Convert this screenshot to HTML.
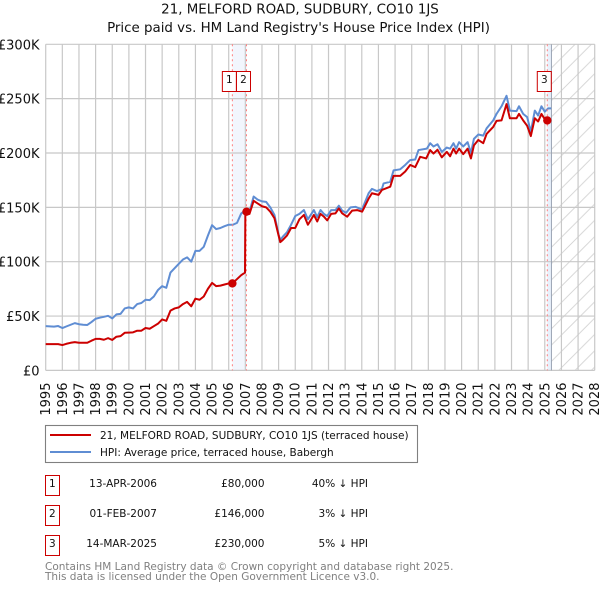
<!DOCTYPE html>
<html>
<head>
<meta charset="utf-8">
<style>
html,body{margin:0;padding:0;background:#fff;}
svg{display:block;font-family:"DejaVu Sans","Liberation Sans",sans-serif;}
</style>
</head>
<body>
<svg id="chart" width="600" height="590" viewBox="0 0 600 590" xmlns="http://www.w3.org/2000/svg">
<defs>
<pattern id="hatch" patternUnits="userSpaceOnUse" width="16.3" height="16.3">
<path d="M-1,17.3 L17.3,-1 M-1,1 L1,-1 M15.3,17.3 L17.3,15.3" stroke="#d2d2d2" stroke-width="0.9" fill="none"/>
</pattern>
</defs>
<rect x="0" y="0" width="600" height="590" fill="#fff"/>
<text x="300" y="13.5" text-anchor="middle" font-size="13.4" fill="#111">21, MELFORD ROAD, SUDBURY, CO10 1JS</text>
<text x="298.5" y="32" text-anchor="middle" font-size="13.4" fill="#111">Price paid vs. HM Land Registry's House Price Index (HPI)</text>
<g id="bands"></g>
<g id="grid"></g>
<g id="ylabels"></g>
<g id="xlabels"></g>
<g id="series"></g>
<g id="sales"></g>

<g>
<rect x="45.5" y="425.5" width="372" height="37" fill="#fff" stroke="#808080" stroke-width="1.1"/>
<line x1="50" x2="91" y1="435" y2="435" stroke="#cc0000" stroke-width="2"/>
<text x="100" y="439" font-size="10.5" fill="#111">21, MELFORD ROAD, SUDBURY, CO10 1JS (terraced house)</text>
<line x1="50" x2="91" y1="452" y2="452" stroke="#5f8dd3" stroke-width="2"/>
<text x="100" y="456" font-size="10.5" fill="#111">HPI: Average price, terraced house, Babergh</text>
</g>

<g font-size="10.5" fill="#111">
<rect x="45.5" y="475.5" width="14" height="20" fill="#fff" stroke="#cc0000" stroke-width="1"/>
<text x="52.3" y="487" text-anchor="middle">1</text>
<text x="157" y="487" text-anchor="end">13-APR-2006</text>
<text x="264.5" y="487" text-anchor="end">£80,000</text>
<text x="368" y="487" text-anchor="end">40% ↓ HPI</text>
<rect x="45.5" y="505.5" width="14" height="20" fill="#fff" stroke="#cc0000" stroke-width="1"/>
<text x="52.3" y="517" text-anchor="middle">2</text>
<text x="157" y="517" text-anchor="end">01-FEB-2007</text>
<text x="264.5" y="517" text-anchor="end">£146,000</text>
<text x="368" y="517" text-anchor="end">3% ↓ HPI</text>
<rect x="45.5" y="535.5" width="14" height="20" fill="#fff" stroke="#cc0000" stroke-width="1"/>
<text x="52.3" y="547" text-anchor="middle">3</text>
<text x="157" y="547" text-anchor="end">14-MAR-2025</text>
<text x="264.5" y="547" text-anchor="end">£230,000</text>
<text x="368" y="547" text-anchor="end">5% ↓ HPI</text>
</g>

<text x="45" y="570" font-size="10.5" fill="#808080">Contains HM Land Registry data © Crown copyright and database right 2025.</text>
<text x="45" y="580" font-size="10.5" fill="#808080">This data is licensed under the Open Government Licence v3.0.</text>
</svg>
<script>
const yearTicks = [1995,1996,1997,1998,1999,2000,2001,2002,2003,2004,2005,2006,2007,2008,2009,2010,2011,2012,2013,2014,2015,2016,2017,2018,2019,2020,2021,2022,2023,2024,2025,2026,2027,2028];
const priceTicks = [0,50,100,150,200,250,300];
const priceTickLabels = ["£0","£50K","£100K","£150K","£200K","£250K","£300K"];

const hpiDates = [1995,1995.25,1995.5,1995.75,1996,1996.25,1996.5,1996.75,1997,1997.25,1997.5,1997.75,1998,1998.25,1998.5,1998.75,1999,1999.25,1999.5,1999.75,2000,2000.25,2000.5,2000.75,2001,2001.25,2001.5,2001.75,2002,2002.25,2002.5,2002.75,2003,2003.25,2003.5,2003.75,2004,2004.25,2004.5,2004.75,2005,2005.25,2005.5,2005.75,2006,2006.25,2006.5,2006.75,2007,2007.25,2007.5,2007.75,2008,2008.25,2008.5,2008.75,2009,2009.1,2009.25,2009.5,2009.75,2010,2010.25,2010.52,2010.76,2011.12,2011.32,2011.52,2011.72,2011.92,2012.16,2012.42,2012.62,2012.82,2013.06,2013.32,2013.62,2014.02,2014.12,2014.41,2014.61,2014.91,2015.21,2015.31,2015.71,2015.91,2016.31,2016.61,2016.91,2017.21,2017.41,2017.91,2018.11,2018.31,2018.55,2018.81,2019.11,2019.31,2019.51,2019.67,2019.85,2020.1,2020.36,2020.56,2020.74,2021,2021.3,2021.5,2021.9,2022.1,2022.4,2022.7,2022.9,2023.3,2023.45,2023.7,2023.94,2024.16,2024.4,2024.6,2024.8,2025,2025.2,2025.38];
const hpiValues = [40.7,40.5,40.3,40.8,39,40.5,42,43.5,42.5,42,41.8,44.5,47.5,48.5,49.3,50.2,47.8,51.5,52,57,58,57,61,62,65,64.6,68,74,77.5,76,90,94,98,102,104,100,110,110,113.7,124,133.6,130,131,132.7,134,134,135.7,144.3,147.4,146,160,157,155.5,155,150,143,125,120,123,127,134,142,144,147.5,139,147.5,141,147.5,144,142,147.5,147.5,151.5,147,145,150,150.5,148,152,163,167,165,167,172,173.5,184,185,189,193.5,194,202.7,204,209,206,208,201,205,204,209,204,210,206,210,200,213,217,216,222.6,230,236,243,252.6,239,238.5,243,236,233,219.5,239,234.5,243,238,241,241];

const priceDates = [1995,1995.5,1995.75,1996,1996.25,1996.5,1996.75,1997,1997.5,1997.75,1998,1998.25,1998.5,1998.75,1999,1999.25,1999.5,1999.75,2000,2000.25,2000.5,2000.75,2001,2001.25,2001.5,2001.75,2002,2002.25,2002.5,2002.75,2003,2003.25,2003.5,2003.75,2004,2004.25,2004.5,2004.75,2005,2005.25,2005.5,2005.75,2006,2006.22,2006.75,2006.98,2007,2007.25,2007.5,2007.75,2008,2008.25,2008.5,2008.75,2009,2009.1,2009.25,2009.5,2009.75,2010,2010.25,2010.52,2010.76,2011.12,2011.32,2011.52,2011.72,2011.92,2012.16,2012.42,2012.62,2012.82,2013.12,2013.42,2013.72,2014.02,2014.12,2014.41,2014.61,2015.01,2015.21,2015.71,2015.91,2016.31,2016.61,2016.91,2017.21,2017.51,2017.87,2018.11,2018.31,2018.55,2018.81,2019.11,2019.31,2019.51,2019.67,2019.85,2020.1,2020.36,2020.56,2020.74,2021,2021.3,2021.5,2021.9,2022.1,2022.4,2022.7,2022.9,2023.3,2023.45,2023.7,2023.94,2024.16,2024.4,2024.6,2024.8,2025,2025.15];
const priceValues = [24.2,24.2,24.2,23.3,24.5,25.4,26,25.4,25.4,27.3,29,29,28.2,29.7,28,31,31.5,34.6,34.8,35,36.5,36.5,39,38.3,40.7,43,46.9,45.6,55,57,58,61,63,59,66,65,68,75,80.5,77.5,78,79,80,80,87.6,90,146,144,156,153.5,151,150,146,140,124,118,120,124,131,131,139,143,134,143,137,144,141.5,138,144,144.5,149,144.5,141.4,147,147.5,146,149,158,163,161.5,166,169,179,179,183,189,187,196.5,195,202.7,199.5,203,196,201,197,204,199.5,204,199,204,195,207,212,209,217.5,224,229.5,230,245,232,232,236,230,225,215.6,232,229,236,231,230];

const saleDates = [2006.22,2007.07,2025.15];
const salePrices = [80,146,230];
const saleLabels = ["1","2","3"];
const forecastStart = 2025.4;

const NS = "http://www.w3.org/2000/svg";
const xMin = 1995, xMax = 2028, yMin = 0, yMax = 300;
const pxLeft = 45.7, pxRight = 594.7, pxBottom = 370.4, pxTop = 44.3;
function xAt(year){ return pxLeft + (year - xMin) / (xMax - xMin) * (pxRight - pxLeft); }
function yAt(value){ return pxBottom - (value - yMin) / (yMax - yMin) * (pxBottom - pxTop); }
function make(parent, tag, attrs, text){
  const el = document.createElementNS(NS, tag);
  for (const k in attrs) el.setAttribute(k, attrs[k]);
  if (text !== undefined) el.textContent = text;
  document.getElementById(parent).appendChild(el);
  return el;
}
function pathFrom(dates, values){
  return dates.map((d, i) => (i ? "L" : "M") + xAt(d).toFixed(2) + "," + yAt(values[i]).toFixed(2)).join(" ");
}

let el;
el = make("bands", "rect", {x: xAt(saleDates[0]), y: pxTop, width: xAt(saleDates[1]) - xAt(saleDates[0]), height: pxBottom - pxTop, fill: "#f2f6fd"});


el = make("bands", "rect", {x: xAt(saleDates[2]), y: pxTop, width: xAt(forecastStart) - xAt(saleDates[2]), height: pxBottom - pxTop, fill: "#e8f0fb"});


el = make("bands", "rect", {x: xAt(forecastStart), y: pxTop, width: pxRight - xAt(forecastStart), height: pxBottom - pxTop, fill: "url(#hatch)"});



yearTicks.forEach(function(year){
  const g = make("grid", "line", {x1: xAt(year), x2: xAt(year), y1: pxTop, y2: pxBottom, stroke: "#c8c8c8", "stroke-width": 1.2});
  
  
  const x = xAt(year) + 4.5;
  const t = make("xlabels", "text", {x: x, y: 382.5, transform: "rotate(-90 " + x + " 382.5)", "text-anchor": "end", "font-size": 13, fill: "#111"}, String(year));
  
  
});
priceTicks.forEach(function(value, i){
  const g = make("grid", "line", {x1: pxLeft, x2: pxRight, y1: yAt(value), y2: yAt(value), stroke: "#c8c8c8", "stroke-width": 1.2});
  
  
  const t = make("ylabels", "text", {x: 39.5, y: yAt(value) + 5, "text-anchor": "end", "font-size": 13, fill: "#111"}, priceTickLabels[i]);
  
  
});

el = make("grid", "line", {x1: xAt(forecastStart), x2: xAt(forecastStart), y1: pxTop, y2: pxBottom, stroke: "#9aa4b4", "stroke-width": 1});



el = make("series", "path", {d: pathFrom(hpiDates, hpiValues), fill: "none", stroke: "#5f8dd3", "stroke-width": 2, "stroke-linejoin": "round"});


el = make("series", "path", {d: pathFrom(priceDates, priceValues), fill: "none", stroke: "#cc0000", "stroke-width": 2, "stroke-linejoin": "round"});



saleDates.forEach(function(date, i){
  const v = make("sales", "line", {x1: xAt(date), x2: xAt(date), y1: pxTop, y2: pxBottom, stroke: "#ff7f7f", "stroke-width": 1, "stroke-dasharray": "2 3"});
  
  
  const m = make("sales", "circle", {cx: xAt(date), cy: yAt(salePrices[i]), r: 4.2, fill: "#cc0000"});
  
  
  const right = xAt(date) + 4;
  const b = make("sales", "rect", {x: right - 14, y: 71.5, width: 14, height: 20, fill: "#fff", stroke: "#cc0000", "stroke-width": 1});
  
  
  const t = make("sales", "text", {x: right - 7, y: 83, "text-anchor": "middle", "font-size": 10.5, fill: "#111"}, saleLabels[i]);
  
  
});
</script>
</body>
</html>
